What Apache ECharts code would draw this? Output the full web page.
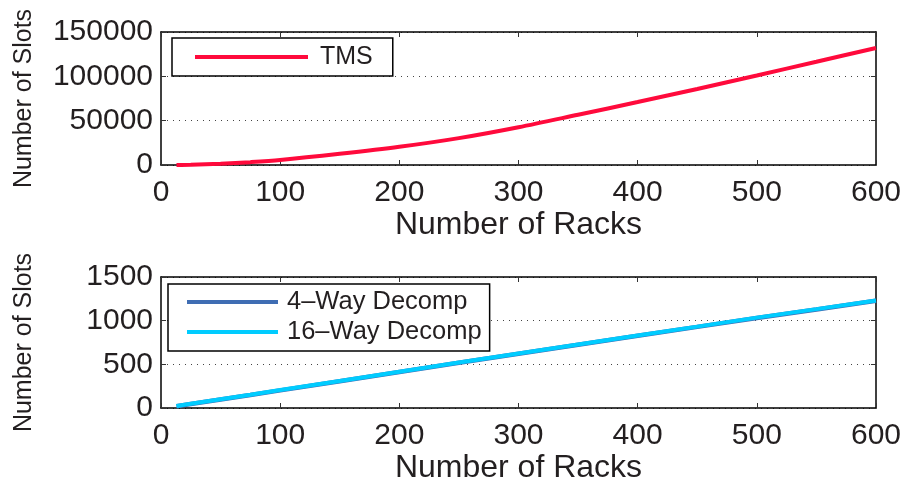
<!DOCTYPE html>
<html>
<head>
<meta charset="utf-8">
<script src="https://cdn.jsdelivr.net/npm/echarts@6/dist/echarts.min.js"></script>
<style>
  html, body { margin: 0; padding: 0; background: #fff; }
  #chart { width: 904px; height: 485px; }
</style>
</head>
<body>
<div id="chart"></div>
<script>
// racks on the x axis (shared by both panels)
var racks = [13, 25, 50, 75, 100, 150, 200, 250, 300, 350, 400, 450, 500, 550, 600];
// top panel: TMS slots
var tmsSlots = [80, 300, 1400, 3200, 5600, 12600, 20500, 30300, 42600, 56700, 71000, 85800, 101000, 116400, 132000];
// bottom panel: decomposed slots
var way4Slots = [20, 45, 97, 149, 202, 307, 412, 517, 621, 724, 827, 929, 1031, 1129, 1229];
var way16Slots = [22, 48, 100, 152, 205, 310, 415, 520, 625, 728, 830, 932, 1035, 1132, 1232];
var xTicks = { min: 0, max: 600, interval: 100 };
var topTicks = { min: 0, max: 150000, interval: 50000 };
var bottomTicks = { min: 0, max: 1500, interval: 500 };

var FONT = '"Liberation Sans", Arial, Helvetica, sans-serif';
var TXT = '#231f20';

function pairs(xs, ys) {
  var out = [];
  for (var i = 0; i < xs.length; i++) out.push([xs[i], ys[i]]);
  return out;
}

function xAx(gridIndex, pos) {
  var main = pos === 'bottom';
  return {
    type: 'value', gridIndex: gridIndex, position: pos,
    min: xTicks.min, max: xTicks.max, interval: xTicks.interval,
    name: main ? 'Number of Racks' : '',
    nameLocation: 'middle', nameGap: 44,
    nameTextStyle: { fontFamily: FONT, fontSize: 32, color: TXT },
    axisLine: { show: true, onZero: false, lineStyle: { color: '#000', width: 1.5 } },
    axisTick: { show: true, inside: true, length: 5, lineStyle: { color: '#333', width: 1 } },
    axisLabel: { show: main, margin: 13, fontFamily: FONT, fontSize: 30, color: TXT,
                 formatter: function (v) { return String(v); } },
    splitLine: { show: false }
  };
}

function yAx(gridIndex, pos, ticks) {
  var main = pos === 'left';
  return {
    type: 'value', gridIndex: gridIndex, position: pos,
    min: ticks.min, max: ticks.max, interval: ticks.interval,
    name: main ? 'Number of Slots' : '',
    nameLocation: 'middle', nameGap: 124,
    nameTextStyle: { fontFamily: FONT, fontSize: 25, color: TXT },
    axisLine: { show: true, onZero: false, lineStyle: { color: '#000', width: 1.5 } },
    axisTick: { show: true, inside: true, length: 5, lineStyle: { color: '#333', width: 1 } },
    axisLabel: { show: main, margin: 8, fontFamily: FONT, fontSize: 30, color: TXT,
                 formatter: function (v) { return String(v); } },
    splitLine: { show: main, lineStyle: { color: '#444', width: 1, type: [1, 5] } }
  };
}

var chart = echarts.init(document.getElementById('chart'), null, { renderer: 'canvas' });
chart.setOption({
  animation: false,
  backgroundColor: '#fff',
  grid: [
    { left: 161, top: 32, width: 715, height: 133 },
    { left: 161, top: 277, width: 715, height: 134 }
  ],
  xAxis: [xAx(0, 'bottom'), xAx(0, 'top'), xAx(1, 'bottom'), xAx(1, 'top')],
  yAxis: [yAx(0, 'left', topTicks), yAx(0, 'right', topTicks),
          yAx(1, 'left', bottomTicks), yAx(1, 'right', bottomTicks)],
  legend: [
    {
      data: ['TMS'], left: 172, top: 38, orient: 'vertical',
      padding: [5, 20, 5, 23], icon: 'rect', itemWidth: 113, itemHeight: 4,
      backgroundColor: '#fff', borderColor: '#000', borderWidth: 1.5,
      textStyle: { fontFamily: FONT, fontSize: 25, color: TXT, lineHeight: 28, padding: [0, 0, 0, 7] }
    },
    {
      data: ['4\u2013Way Decomp', '16\u2013Way Decomp'], left: 168, top: 284, orient: 'vertical',
      padding: [4, 8, 5, 19], itemGap: 2, icon: 'rect', itemWidth: 91, itemHeight: 4,
      backgroundColor: '#fff', borderColor: '#000', borderWidth: 1.5,
      textStyle: { fontFamily: FONT, fontSize: 25.5, color: TXT, lineHeight: 28, padding: [0, 0, 0, 4] }
    }
  ],
  series: [
    {
      name: 'TMS', type: 'line', xAxisIndex: 0, yAxisIndex: 0,
      data: pairs(racks, tmsSlots), smooth: 0.3, symbol: 'none',
      lineStyle: { color: '#ff0a3c', width: 4 }, itemStyle: { color: '#ff0a3c' }
    },
    {
      name: '4\u2013Way Decomp', type: 'line', xAxisIndex: 2, yAxisIndex: 2,
      data: pairs(racks, way4Slots), symbol: 'none',
      lineStyle: { color: '#3f6db3', width: 4.5 }, itemStyle: { color: '#3f6db3' }
    },
    {
      name: '16\u2013Way Decomp', type: 'line', xAxisIndex: 2, yAxisIndex: 2,
      data: pairs(racks, way16Slots), symbol: 'none',
      lineStyle: { color: '#00ccff', width: 4 }, itemStyle: { color: '#00ccff' }
    }
  ]
});
</script>
</body>
</html>
